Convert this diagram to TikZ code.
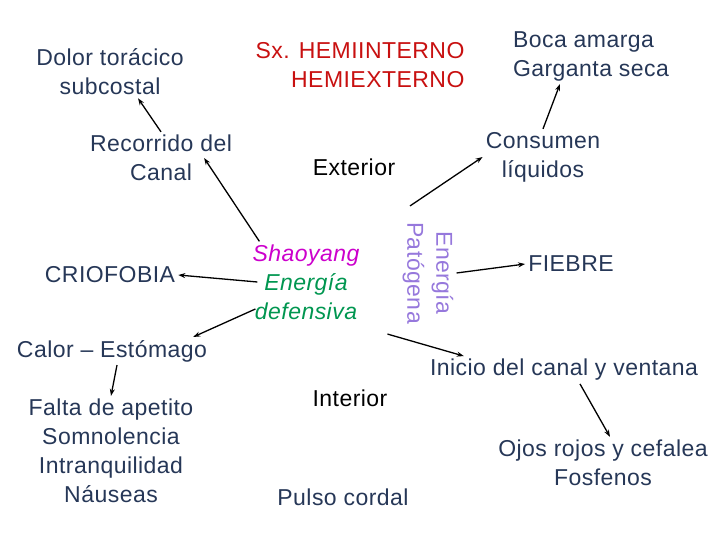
\documentclass[tikz,border=0pt]{standalone}
\usepackage{fontspec}
\setmainfont[LetterSpace=2]{Liberation Sans}
\usetikzlibrary{arrows.meta, positioning}
\usepackage{xcolor}
\definecolor{tblue}{RGB}{38,55,87}
\definecolor{sxred}{RGB}{200,16,16}
\definecolor{shmag}{RGB}{204,0,204}
\definecolor{engreen}{RGB}{0,150,80}
\definecolor{patpur}{RGB}{150,120,220}

\begin{document}
\begin{tikzpicture}[x=1pt,y=-1pt,
  txt/.style={text=tblue,font=\fontsize{23}{29}\selectfont,
              inner sep=3pt,align=center},
  plain/.style={txt,text=black},
  arr/.style={-{Stealth[length=7pt,width=5pt]},black,line width=1.3pt}
]
\useasboundingbox (0,0) rectangle (720,540);
\node[txt] (dolor) at (110,72) {Dolor torácico\\subcostal};
\node[txt,text=sxred,align=right] (sx) at (360,65) {Sx. HEMIINTERNO\\HEMIEXTERNO};
\node[txt,align=left] (boca) at (591,56) {Boca amarga\\Garganta seca};
\node[txt] (rec)  at (161,158) {Recorrido del\\Canal};
\node[plain] (ext) at (354,167) {Exterior};
\node[txt] (cons) at (543,157) {Consumen\\líquidos};
\node[txt] (crio) at (110,275) {CRIOFOBIA};
\node[txt,font=\fontsize{23}{29}\selectfont\itshape] (sha) at (306,282)
  {\textcolor{shmag}{Shaoyang}\\\textcolor{engreen}{Energía}\\\textcolor{engreen}{defensiva}};
\node[txt,text=patpur,rotate=-90] (pat) at (428,273) {Energía\\Patógena};
\node[txt] (fiebre) at (571,264) {FIEBRE};
\node[txt] (calor)  at (112,351) {Calor – Estómago};
\node[txt] (inicio) at (564,370) {Inicio del canal y ventana};
\node[plain] (inter) at (350,398) {Interior};
\node[txt] (falta) at (111,451) {Falta de apetito\\Somnolencia\\Intranquilidad\\Náuseas};
\node[txt] (ojos)  at (603,463) {Ojos rojos y cefalea\\Fosfenos};
\node[txt] (pulso) at (343,497) {Pulso cordal};
% arrows
\draw[arr] (rec.north) -- ([xshift=28pt]dolor.south);
\draw[arr] ([xshift=10pt]sha.north west) -- ([xshift=-31pt]rec.east);
\draw[arr] ([xshift=8pt]sha.west) -- (crio.east);
\draw[arr] ([xshift=6pt,yshift=-27pt]sha.west) -- ([xshift=-17pt]calor.north east);
\draw[arr] ([xshift=5pt]calor.south) -- (falta.north);
\draw[arr] ([xshift=-18pt,yshift=13pt]pat.west) -- (cons.west);
\draw[arr] (cons.north) -- ([xshift=-31pt]boca.south);
\draw[arr] (pat.north) -- (fiebre.west);
\draw[arr] ([xshift=-12pt,yshift=-7pt]pat.south east) -- ([xshift=37pt]inicio.north west);
\draw[arr] ([xshift=16pt]inicio.south) -- ([xshift=7pt]ojos.north);
\end{tikzpicture}
\end{document}
